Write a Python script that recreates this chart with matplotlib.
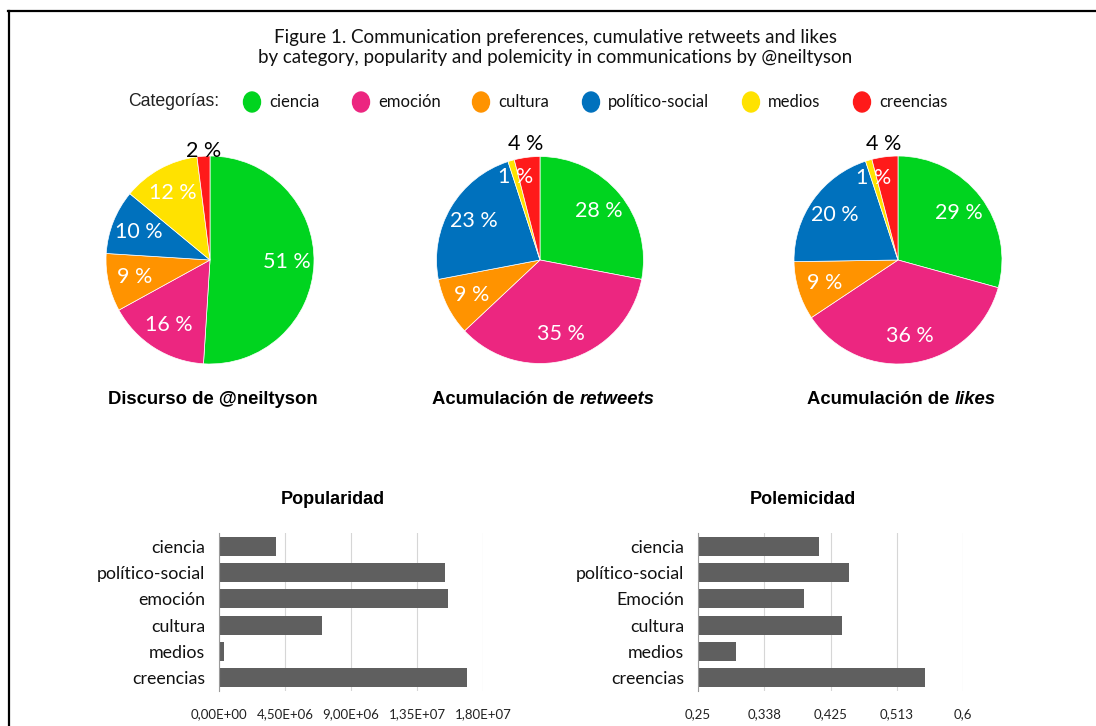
import numpy as np
import matplotlib
matplotlib.use("Agg")
import matplotlib.pyplot as plt
from matplotlib.lines import Line2D
from matplotlib.patches import Ellipse

# Categorias y colores
categorias = ["ciencia", "emoción", "cultura", "político-social", "medios", "creencias"]
colores = ["#00d41f", "#ec2680", "#ff9300", "#0071bd", "#ffe200", "#ff1a1a"]

# Porcentajes de los pasteles (mismo orden que categorias)
discurso = [51, 16, 9, 10, 12, 2]
retweets = [28, 35, 9, 23, 1, 4]
likes = [29, 36, 9, 20, 1, 4]

# Barras
pop_cats = ["ciencia", "político-social", "emoción", "cultura", "medios", "creencias"]
popularidad = [3.86e6, 1.539e7, 1.559e7, 6.99e6, 3.6e5, 1.691e7]
pop_ticks = [0, 4.5e6, 9e6, 1.35e7, 1.8e7]
pop_labels = ["0,00E+00", "4,50E+06", "9,00E+06", "1,35E+07", "1,80E+07"]

pol_cats = ["ciencia", "político-social", "Emoción", "cultura", "medios", "creencias"]
polemicidad = [0.410, 0.450, 0.390, 0.440, 0.300, 0.550]
pol_ticks = [0.25, 0.3375, 0.425, 0.5125, 0.6]
pol_labels = ["0,25", "0,338", "0,425", "0,513", "0,6"]

W, H = 1096, 726
fig = plt.figure(figsize=(W/100, H/100), dpi=100)
renderer = fig.canvas.get_renderer()

SANS = ["Liberation Sans", "DejaVu Sans"]
CAL = ["Lato", "DejaVu Sans"]


def fx(x):
    return x / W


def fy(y):
    return 1 - y / H


# marco
fig.add_artist(Line2D([fx(8), 1], [fy(10.5), fy(10.5)], color="black", lw=1.6))
fig.add_artist(Line2D([fx(8.5), fx(8.5)], [fy(10.5), 0], color="black", lw=1.6))

# titulo
fig.text(fx(555), fy(38), "Figure 1. Communication preferences, cumulative retweets and likes",
         ha="center", va="center", fontsize=13.5, family=CAL, color="#111111")
fig.text(fx(555), fy(57), "by category, popularity and polemicity in communications by @neiltyson",
         ha="center", va="center", fontsize=13.5, family=CAL, color="#111111")

# leyenda
fig.text(fx(128), fy(102), "Categorías:", ha="left", va="center", fontsize=12.7,
         family=SANS, color="#222222")
ley_x = [252, 361, 481, 591, 751, 862]
for x, c, nombre in zip(ley_x, colores, categorias):
    fig.add_artist(Ellipse((fx(x), fy(102)), 17/W, 20/H, color=c, transform=fig.transFigure))
    fig.text(fx(x + 17), fy(102), nombre, ha="left", va="center", fontsize=12, family=CAL,
             color="#111111")


def titulo_mixto(cx, normal, cursiva):
    # parte normal en negrita + parte en negrita cursiva, centradas juntas
    t1 = fig.text(0, fy(400), normal, ha="left", va="center", fontsize=13.3,
                  fontweight="bold", family=SANS)
    t2 = fig.text(0, fy(400), cursiva, ha="left", va="center", fontsize=13.3,
                  fontweight="bold", style="italic", family=SANS)
    w1 = t1.get_window_extent(renderer).width
    w2 = t2.get_window_extent(renderer).width
    x0 = cx - (w1 + w2) / 2
    t1.set_x(fx(x0))
    t2.set_x(fx(x0 + w1))


def pastel(cx, cy, r, valores, titulo, especiales):
    ax = fig.add_axes([fx(cx - r), fy(cy + r), 2*r/W, 2*r/H])
    wedges, _ = ax.pie(valores, colors=colores, startangle=90, counterclock=False,
                       wedgeprops=dict(linewidth=0.5, edgecolor="white"))
    ax.set_xlim(-1, 1)
    ax.set_ylim(-1, 1)
    for i, (w, v) in enumerate(zip(wedges, valores)):
        ang = np.deg2rad((w.theta1 + w.theta2) / 2)
        dist, col = especiales.get(i, (0.74, "white"))
        ax.text(dist*np.cos(ang), dist*np.sin(ang), f"{v} %", ha="center", va="center",
                fontsize=15.5, color=col, family=CAL)
    if isinstance(titulo, tuple):
        titulo_mixto(cx + 3, *titulo)
    else:
        fig.text(fx(cx + 3), fy(400), titulo, ha="center", va="center", fontsize=13.3,
                 fontweight="bold", family=SANS)


pastel(210, 260, 104, discurso, "Discurso de @neiltyson", {5: (1.05, "black")})
pastel(540, 260, 103.5, retweets, ("Acumulación de ", "retweets"),
       {4: (0.84, "white"), 5: (1.13, "black")})
pastel(898, 260, 104, likes, ("Acumulación de ", "likes"),
       {4: (0.82, "white"), 5: (1.12, "black")})


def barras(x0, x1, cats, valores, ticks, labels, titulo, tx):
    ax = fig.add_axes([fx(x0), fy(691), (x1 - x0)/W, (691 - 533)/H])
    y = np.arange(len(cats))
    base = ticks[0]
    ax.barh(y, np.array(valores) - base, left=base, height=0.72, color="#5f5f5f")
    ax.set_ylim(len(cats) - 0.5, -0.5)
    ax.set_xlim(ticks[0], ticks[-1])
    ax.set_xticks(ticks)
    ax.set_xticklabels(labels, family=CAL, fontsize=9.5, color="#222222")
    ax.set_yticks(y)
    ax.set_yticklabels(cats, family=CAL, fontsize=12.8, color="#111111")
    ax.tick_params(axis="y", length=0, pad=10)
    ax.tick_params(axis="x", length=0, pad=12)
    for s in ["top", "right", "bottom"]:
        ax.spines[s].set_visible(False)
    ax.spines["left"].set_color("#9a9a9a")
    ax.grid(True, axis="x", color="#d6d6d6", lw=0.8)
    ax.set_axisbelow(True)
    fig.text(fx(tx), fy(500), titulo, ha="center", va="center", fontsize=13,
             fontweight="bold", family=SANS)
    return ax


barras(219, 483, pop_cats, popularidad, pop_ticks, pop_labels, "Popularidad", 333)
barras(698, 963, pol_cats, polemicidad, pol_ticks, pol_labels, "Polemicidad", 803)

fig.savefig("out.png", dpi=100)
